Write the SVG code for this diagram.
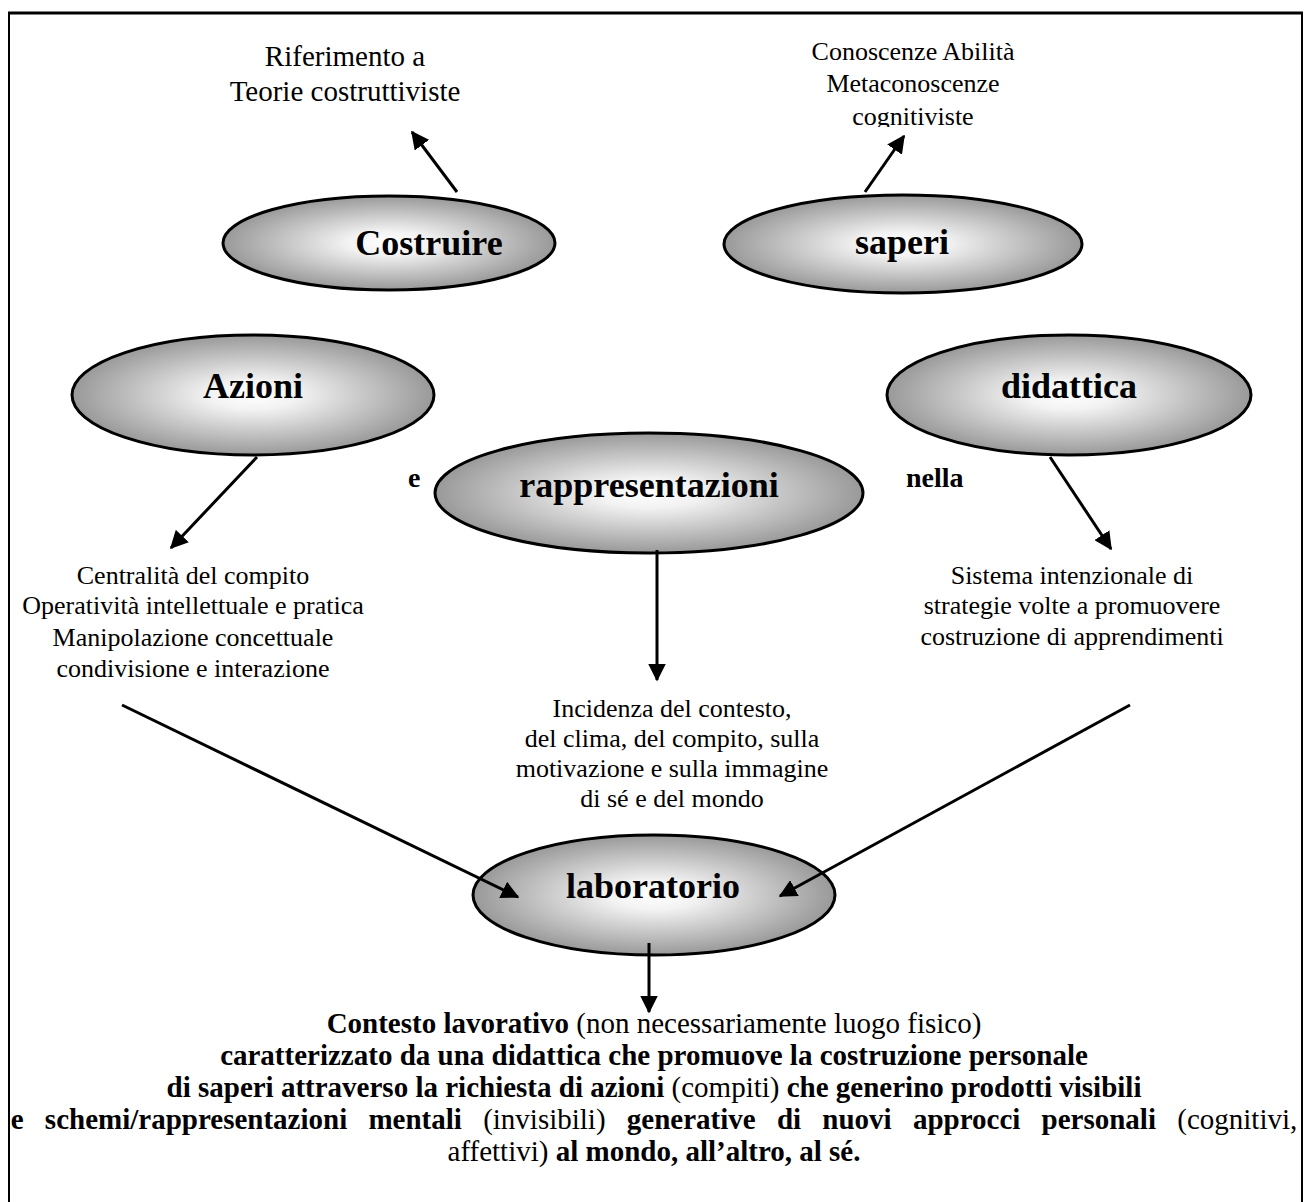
<svg xmlns="http://www.w3.org/2000/svg" width="1307" height="1202" viewBox="0 0 1307 1202">
<style>
.node{fill:url(#g);stroke:#000;stroke-width:3}
.lbl{font-family:"Liberation Serif","Times New Roman",serif;font-weight:bold;font-size:36px;text-anchor:middle;fill:#000}
.t{font-family:"Liberation Serif","Times New Roman",serif;font-size:26px;text-anchor:middle;fill:#000}
.tb{font-family:"Liberation Serif","Times New Roman",serif;font-size:28px;font-weight:bold;fill:#000}
.bt{font-family:"Liberation Serif","Times New Roman",serif;font-size:29px;text-anchor:middle;fill:#000}
.b{font-weight:bold}
.c{stroke:#000;stroke-width:3;fill:none;marker-end:url(#ah)}
</style>
<defs>
<radialGradient id="g" cx="50%" cy="50%" r="50%">
<stop offset="0" stop-color="#ffffff"/>
<stop offset="0.25" stop-color="#f2f2f2"/>
<stop offset="1" stop-color="#999999"/>
</radialGradient>
<marker id="ah" markerWidth="6" markerHeight="6" refX="5.5" refY="3" orient="auto" markerUnits="strokeWidth">
<path d="M0,0 L6,3 L0,6 Z" fill="#000"/>
</marker>
<clipPath id="clipTR"><rect x="700" y="20" width="420" height="107"/></clipPath>
</defs>
<rect width="1307" height="1202" fill="#fff"/>
<g id="border" stroke="#000" fill="none">
<line x1="8" y1="13" x2="1303" y2="13" stroke-width="3"/>
<line x1="9" y1="12" x2="9" y2="1210" stroke-width="2"/>
<line x1="1302" y1="12" x2="1302" y2="1210" stroke-width="2"/>
</g>
<g id="costruire">
<ellipse class="node" cx="389" cy="243" rx="166" ry="47"/>
<text class="lbl" x="429" y="255">Costruire</text>
</g>
<g id="saperi">
<ellipse class="node" cx="903" cy="244" rx="179" ry="49"/>
<text class="lbl" x="902" y="254">saperi</text>
</g>
<g id="azioni">
<ellipse class="node" cx="253" cy="395" rx="181" ry="60"/>
<text class="lbl" x="253" y="398">Azioni</text>
</g>
<g id="didattica">
<ellipse class="node" cx="1069" cy="395" rx="182" ry="60"/>
<text class="lbl" x="1069" y="398">didattica</text>
</g>
<g id="rappresentazioni">
<ellipse class="node" cx="649" cy="493" rx="214" ry="60"/>
<text class="lbl" x="649" y="497">rappresentazioni</text>
</g>
<g id="laboratorio">
<ellipse class="node" cx="654" cy="895" rx="181" ry="60"/>
<text class="lbl" x="653" y="898">laboratorio</text>
</g>
<g id="connectors">
<line class="c" x1="457" y1="192" x2="412" y2="132"/>
<line class="c" x1="865" y1="192" x2="904" y2="136"/>
<line class="c" x1="257" y1="457" x2="171" y2="548"/>
<line class="c" x1="1050" y1="457" x2="1111" y2="549"/>
<line class="c" x1="657" y1="550" x2="657" y2="680"/>
<line class="c" x1="122" y1="705" x2="518" y2="897"/>
<line class="c" x1="1130" y1="705" x2="780" y2="896"/>
<line class="c" x1="649" y1="943" x2="649" y2="1012"/>
</g>
<g id="label-e"><text class="tb" x="408" y="487">e</text></g>
<g id="label-nella"><text class="tb" x="906" y="487">nella</text></g>
<g id="text-teorie" class="t" style="font-size:29px">
<text x="345" y="66">Riferimento a</text>
<text x="345" y="101">Teorie costruttiviste</text>
</g>
<g id="text-conoscenze" class="t" clip-path="url(#clipTR)">
<text x="913" y="60">Conoscenze Abilità</text>
<text x="913" y="92">Metaconoscenze</text>
<text x="913" y="125">cognitiviste</text>
</g>
<g id="text-azioni" class="t">
<text x="193" y="584">Centralità del compito</text>
<text x="193" y="614">Operatività intellettuale e pratica</text>
<text x="193" y="646">Manipolazione concettuale</text>
<text x="193" y="677">condivisione e interazione</text>
</g>
<g id="text-didattica" class="t">
<text x="1072" y="584">Sistema intenzionale di</text>
<text x="1072" y="614">strategie volte a promuovere</text>
<text x="1072" y="645">costruzione di apprendimenti</text>
</g>
<g id="text-rappresentazioni" class="t">
<text x="672" y="717">Incidenza del contesto,</text>
<text x="672" y="747">del clima, del compito, sulla</text>
<text x="672" y="777">motivazione e sulla immagine</text>
<text x="672" y="807">di sé e del mondo</text>
</g>
<g id="text-laboratorio" class="bt">
<text x="654" y="1033"><tspan class="b">Contesto lavorativo</tspan> (non necessariamente luogo fisico)</text>
<text x="654" y="1065"><tspan class="b">caratterizzato da una didattica che promuove la costruzione personale</tspan></text>
<text x="654" y="1097"><tspan class="b">di saperi attraverso la richiesta di azioni</tspan> (compiti) <tspan class="b">che generino prodotti visibili</tspan></text>
<text x="654" y="1129" style="word-spacing:14px"><tspan class="b">e schemi/rappresentazioni mentali</tspan> (invisibili) <tspan class="b">generative di nuovi approcci personali</tspan> (cognitivi,</text>
<text x="654" y="1161">affettivi) <tspan class="b">al mondo, all’altro, al sé.</tspan></text>
</g>
</svg>
